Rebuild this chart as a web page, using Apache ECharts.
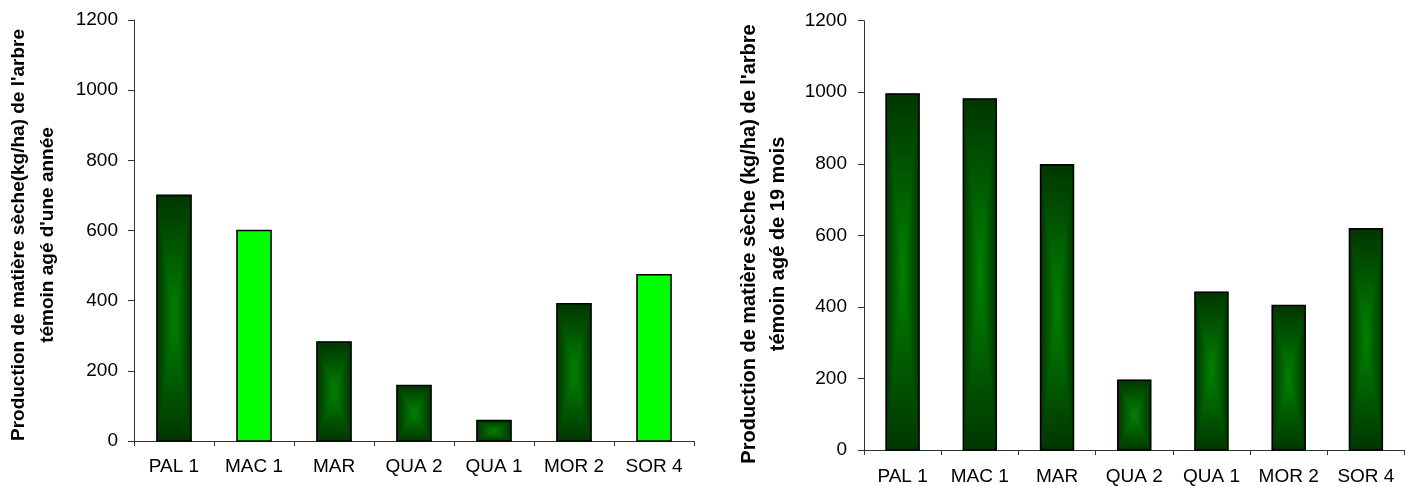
<!DOCTYPE html>
<html>
<head>
<meta charset="utf-8">
<script src="https://cdn.jsdelivr.net/npm/echarts@6/dist/echarts.min.js"></script>
<style>
  html, body { margin: 0; padding: 0; background: #fff; }
  #chart { width: 1414px; height: 486px; }
</style>
</head>
<body>
<div id="chart"></div>
<script>
// Dry-matter production per species (kg/ha)
const categories = ['PAL 1', 'MAC 1', 'MAR', 'QUA 2', 'QUA 1', 'MOR 2', 'SOR 4'];
const yTicks = [0, 200, 400, 600, 800, 1000, 1200];
// control tree aged one year
const valuesOneYear = [700, 600, 282, 158, 58, 391, 474];
// control tree aged 19 months
const valuesNineteenMonths = [995, 981, 797, 195, 441, 404, 618];
// bars drawn in plain light green in the first panel
const highlightedOneYear = ['MAC 1', 'SOR 4'];
const highlightedNineteenMonths = [];

const titleOneYear = "Production de matière sèche(kg/ha) de l'arbre\ntémoin agé d'une année";
const titleNineteenMonths = "Production de matière sèche (kg/ha) de l'arbre\ntémoin agé de 19 mois";

const FONT = "'Liberation Sans', Arial, sans-serif";
const EDGE = '#003600';
const CENTER = '#008200';
const LIME = '#00ff00';

function toSeriesData(values, highlighted) {
  return values.map((v, i) => [i, v, highlighted.indexOf(categories[i]) >= 0 ? 1 : 0]);
}

// Bar with a rectangular "from centre" shading: four triangles meeting at the centre,
// each shaded from the dark edge towards the bright middle.
function renderShadedBar(params, api) {
  const idx = api.value(0);
  const val = api.value(1);
  const plain = api.value(2) === 1;
  const top = api.coord([idx, val]);
  const base = api.coord([idx, 0]);
  const bw = api.size([1, 0])[0] * 0.425;
  const x0 = top[0] - bw / 2, x1 = top[0] + bw / 2;
  const y0 = top[1], y1 = base[1];
  const cx = (x0 + x1) / 2, cy = (y0 + y1) / 2;
  const outline = { type: 'rect', shape: { x: x0, y: y0, width: bw, height: y1 - y0 },
    style: { fill: plain ? LIME : 'none', stroke: '#000', lineWidth: 1.6 } };
  if (plain) return { type: 'group', children: [outline] };
  const stops = [{ offset: 0, color: EDGE }, { offset: 1, color: CENTER }];
  const grad = (ax, ay, bx, by) => new echarts.graphic.LinearGradient(ax, ay, bx, by, stops, true);
  const tri = (pts, fill) => ({ type: 'polygon', shape: { points: pts },
    style: { fill: fill, stroke: fill, lineWidth: 0.6 } });
  return {
    type: 'group',
    children: [
      { type: 'rect', shape: { x: x0, y: y0, width: bw, height: y1 - y0 }, style: { fill: '#005a00' } },
      tri([[x0, y0], [x1, y0], [cx, cy]], grad(0, y0, 0, cy)),
      tri([[x0, y1], [x1, y1], [cx, cy]], grad(0, y1, 0, cy)),
      tri([[x0, y0], [x0, y1], [cx, cy]], grad(x0, 0, cx, 0)),
      tri([[x1, y0], [x1, y1], [cx, cy]], grad(x1, 0, cx, 0)),
      outline
    ]
  };
}

function xAxis(gridIndex, margin) {
  return {
    type: 'category', gridIndex: gridIndex, data: categories, boundaryGap: true,
    axisLine: { lineStyle: { color: '#333', width: 1 } },
    axisTick: { show: true, length: 5, lineStyle: { color: '#333' } },
    axisLabel: { color: '#000', fontFamily: FONT, fontSize: 19, margin: margin, interval: 0 },
    splitLine: { show: false }
  };
}

function yAxis(gridIndex, margin) {
  return {
    type: 'value', gridIndex: gridIndex, min: yTicks[0], max: yTicks[yTicks.length - 1],
    interval: yTicks[1] - yTicks[0],
    axisLine: { show: true, lineStyle: { color: '#333', width: 1 } },
    axisTick: { show: true, length: 6, lineStyle: { color: '#333' } },
    axisLabel: { color: '#000', fontFamily: FONT, fontSize: 19, margin: margin,
      formatter: (v) => String(v) },
    splitLine: { show: false }
  };
}

function axisTitle(text, x, y, size) {
  return {
    type: 'text', x: x, y: y, rotation: Math.PI / 2,
    style: { text: text, fill: '#000', font: 'bold ' + size + 'px ' + FONT,
      align: 'center', verticalAlign: 'middle', lineHeight: 29 }
  };
}

const chart = echarts.init(document.getElementById('chart'), null, { renderer: 'canvas' });
chart.setOption({
  animation: false,
  backgroundColor: '#fff',
  grid: [
    { left: 134, right: 720, top: 20, bottom: 45 },
    { left: 864, right: 9.5, top: 20.7, bottom: 35.3 }
  ],
  xAxis: [xAxis(0, 16), xAxis(1, 17)],
  yAxis: [yAxis(0, 16), yAxis(1, 17)],
  series: [
    { type: 'custom', xAxisIndex: 0, yAxisIndex: 0, renderItem: renderShadedBar,
      encode: { x: 0, y: 1 }, data: toSeriesData(valuesOneYear, highlightedOneYear) },
    { type: 'custom', xAxisIndex: 1, yAxisIndex: 1, renderItem: renderShadedBar,
      encode: { x: 0, y: 1 }, data: toSeriesData(valuesNineteenMonths, highlightedNineteenMonths) }
  ],
  graphic: [
    axisTitle(titleOneYear, 33.5, 235, 19),
    axisTitle(titleNineteenMonths, 763.5, 244, 20)
  ]
});
</script>
</body>
</html>
